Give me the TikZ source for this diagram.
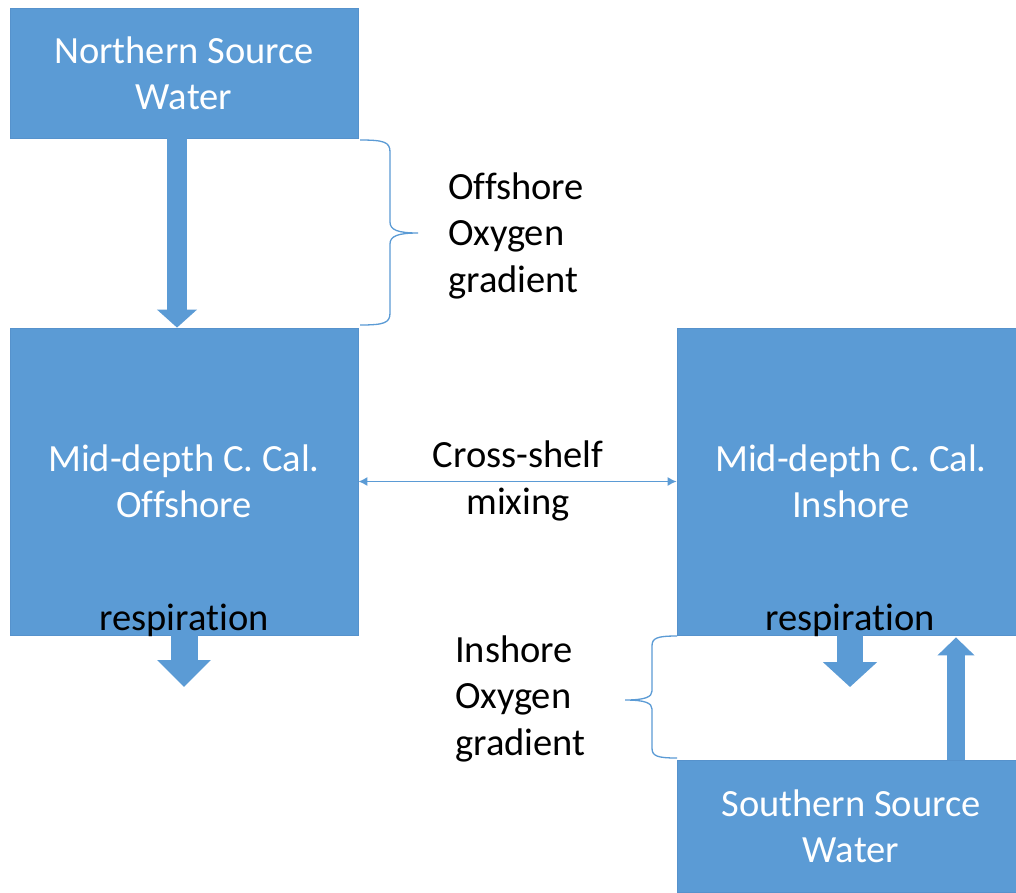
\documentclass[tikz,border=0pt]{standalone}
\usepackage{fontspec}
\setmainfont{Carlito}[Ligatures=NoCommon]
\usetikzlibrary{arrows.meta,calc}
\definecolor{boxblue}{HTML}{5B9BD5}
\definecolor{boxedge}{HTML}{5692CC}
\begin{document}
\begin{tikzpicture}[x=1pt,y=-1pt,
  box/.style={rectangle, fill=boxblue, draw=boxedge, line width=0.8pt, inner sep=0pt,
    text=white, align=center, font=\fontsize{38.5}{46}\selectfont},
  lbl/.style={inner sep=0pt, text=black, font=\fontsize{38.5}{46.5}\selectfont},
  brace/.style={draw=boxblue, line width=1.3pt},
  mixarrow/.style={draw=boxblue, line width=1.3pt,
    {Latex[length=9pt,width=9pt]}-{Latex[length=9pt,width=9pt]}}]
\useasboundingbox (0,0) rectangle (1016,892);
\clip (0,0) rectangle (1016,892);
\fill[white] (0,0) rectangle (1016,892);

% boxes
\node[box, minimum width=348pt, minimum height=130pt] (ns) at (184,73) {Northern Source\\Water};
\node[box, minimum width=348pt, minimum height=307pt] (off) at (184,481.5) {Mid-depth C. Cal.\\Offshore};
\node[box, minimum width=348pt, minimum height=307pt] (ins) at (851,481.5) {Mid-depth C. Cal.\\Inshore};
\node[box, minimum width=348pt, minimum height=132pt] (ss) at (851,826) {Southern Source\\Water};

% respiration labels
\node[lbl, anchor=base] (r1) at (184,630) {respiration};
\node[lbl, anchor=base] (r2) at (850,630) {respiration};

% block arrows
\coordinate (r1end) at (184,687);
\coordinate (r2end) at (850,687);
\draw[boxblue, line width=20pt, -{Triangle[length=18pt,width=39pt]}]
  ($(ns.south)+(-7,0)$) -- ($(off.north)+(-7,0)$);
\draw[boxblue, line width=27pt, -{Triangle[length=27pt,width=52pt]}]
  (off.south) -- (r1end);
\draw[boxblue, line width=26pt, -{Triangle[length=25pt,width=53pt]}]
  ($(ins.south)+(-1,0)$) -- (r2end);
\draw[boxblue, line width=18pt, -{Triangle[length=18pt,width=36pt]}]
  ($(ss.north)+(105,0)$) -- ($(ins.south)+(105,2)$);

% cross-shelf mixing
\draw[mixarrow] (off.east) -- (ins.west);
\node[lbl, align=center, anchor=base] (cs) at (518,514) {Cross-shelf\\mixing};

% braces
\draw[brace] (360,140) .. controls (384,140) and (390,142) .. (390,152) -- (390,222)
  .. controls (390,230) and (398,233) .. (418,233)
  .. controls (398,233) and (390,236) .. (390,244) -- (390,313)
  .. controls (390,323) and (384,325) .. (360,325);
\draw[brace] (677,636) .. controls (657,636) and (652,638) .. (652,646) -- (652,691)
  .. controls (652,697) and (645,700) .. (625,700)
  .. controls (645,700) and (652,703) .. (652,709) -- (652,748)
  .. controls (652,756) and (657,758) .. (677,758);

% gradient labels
\node[lbl, align=left, anchor=base west] (og) at (448,292) {Offshore\\Oxygen\\gradient};
\node[lbl, align=left, anchor=base west] (ig) at (455,755) {Inshore\\Oxygen\\gradient};
\end{tikzpicture}
\end{document}
